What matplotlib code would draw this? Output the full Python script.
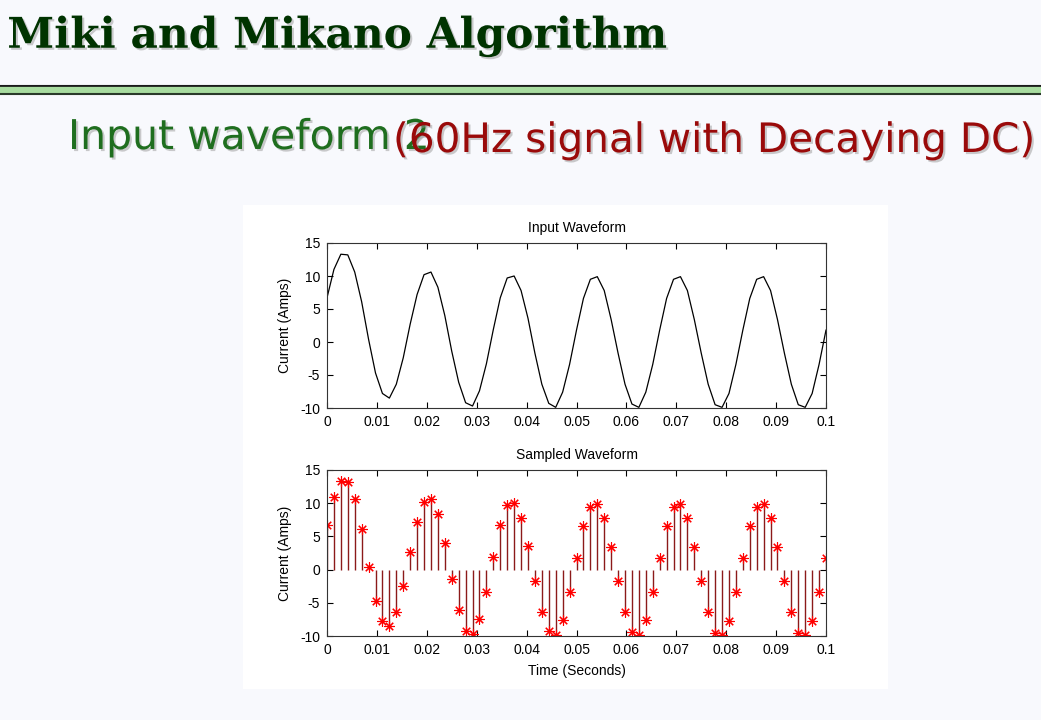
import matplotlib
matplotlib.use("Agg")
import matplotlib.pyplot as plt
import matplotlib.patheffects as pe
import numpy as np

plt.rcParams["axes.unicode_minus"] = False

# Sampled current (A), 12 samples per 60 Hz cycle (720 Hz)
SAMPLE_RATE = 720.0
current = [
    6.7, 11.0, 13.3, 13.2, 10.6, 6.1, 0.4, -4.7, -7.8, -8.5, -6.4, -2.4,
    2.7, 7.2, 10.2, 10.6, 8.3, 4.0, -1.4, -6.1, -9.2, -9.7, -7.4, -3.3,
    1.9, 6.7, 9.7, 10.0, 7.8, 3.6, -1.7, -6.4, -9.3, -9.9, -7.6, -3.4,
    1.8, 6.6, 9.5, 9.9, 7.8, 3.4, -1.7, -6.4, -9.4, -9.9, -7.6, -3.4,
    1.8, 6.6, 9.5, 9.9, 7.8, 3.4, -1.7, -6.4, -9.5, -9.9, -7.8, -3.4,
    1.8, 6.6, 9.5, 9.9, 7.8, 3.4, -1.7, -6.4, -9.5, -9.9, -7.8, -3.4,
    1.8,
]
time = np.arange(len(current)) / SAMPLE_RATE

x_ticks = [0, 0.01, 0.02, 0.03, 0.04, 0.05, 0.06, 0.07, 0.08, 0.09, 0.1]
x_labels = ["0", "0.01", "0.02", "0.03", "0.04", "0.05", "0.06", "0.07", "0.08", "0.09", "0.1"]
y_ticks = [-10, -5, 0, 5, 10, 15]

TITLE_GREEN = "#003300"
SUB_GREEN = "#1f6e1f"
SUB_RED = "#9a0a0a"
STEM_RED = "#8c1a1a"

fig = plt.figure(figsize=(10.41, 7.2), dpi=100)
fig.patch.set_facecolor("#f8f9fd")

shadow = [pe.SimplePatchShadow(offset=(1.5, -1.5), shadow_rgbFace="#999999", alpha=0.5), pe.Normal()]

# slide header
fig.text(0.007, 1 - 36 / 720, "Miki and Mikano Algorithm", family="DejaVu Serif", weight="bold",
         fontsize=30.5, color=TITLE_GREEN, va="center", ha="left", path_effects=shadow)
fig.add_artist(plt.Line2D([0, 1], [1 - 85.5 / 720, 1 - 85.5 / 720], color="#1a1a1a", lw=1.5))
fig.add_artist(plt.Line2D([0, 1], [1 - 89.5 / 720, 1 - 89.5 / 720], color="#a8dca0", lw=4.5))
fig.add_artist(plt.Line2D([0, 1], [1 - 93.5 / 720, 1 - 93.5 / 720], color="#2a3a2a", lw=1.5))

fig.text(68 / 1041, 1 - 149 / 720, "Input waveform 2", family=["DejaVu Sans"], fontsize=29.5,
         color=SUB_GREEN, ha="left", va="baseline", path_effects=shadow)
fig.text(393 / 1041, 1 - 152 / 720, "(60Hz signal with Decaying DC)", family=["DejaVu Sans"],
         fontsize=29.2, color=SUB_RED, ha="left", va="baseline", path_effects=shadow)

# white MATLAB figure panel
panel = plt.Rectangle((243 / 1041, 1 - 689 / 720), 645 / 1041, 484 / 720,
                      transform=fig.transFigure, facecolor="white", edgecolor="none", zorder=0)
fig.add_artist(panel)

ax1 = fig.add_axes([327 / 1041, 1 - 408 / 720, 499 / 1041, 165 / 720])
ax2 = fig.add_axes([327 / 1041, 1 - 636 / 720, 499 / 1041, 166 / 720])

ax1.plot(time, current, color="black", lw=0.9)

markerline, stemlines, baseline = ax2.stem(time, current)
stemlines.set_color(STEM_RED)
stemlines.set_linewidth(1.0)
markerline.set_marker((8, 2, 0))
markerline.set_markersize(7.5)
markerline.set_markeredgewidth(0.8)
markerline.set_color("red")
markerline.set_markeredgecolor("red")
markerline.set_linestyle("none")
baseline.set_visible(False)

for ax, title in ((ax1, "Input Waveform"), (ax2, "Sampled Waveform")):
    ax.set_xlim(0, 0.1)
    ax.set_ylim(-10, 15)
    ax.set_xticks(x_ticks)
    ax.set_xticklabels(x_labels)
    ax.set_yticks(y_ticks)
    ax.tick_params(direction="in", top=True, right=True, length=4, labelsize=10, pad=5)
    for lab in ax.get_xticklabels() + ax.get_yticklabels():
        lab.set_family("Liberation Sans")
    for s in ax.spines.values():
        s.set_linewidth(0.8)
        s.set_color("#333333")
    ax.set_title(title, family="Liberation Sans", fontsize=10, pad=8)
    ax.set_ylabel("Current (Amps)", family="Liberation Sans", fontsize=10, labelpad=6)

ax2.set_xlabel("Time (Seconds)", family="Liberation Sans", fontsize=10, labelpad=5)

fig.savefig("out.png", dpi=100, facecolor=fig.get_facecolor())
